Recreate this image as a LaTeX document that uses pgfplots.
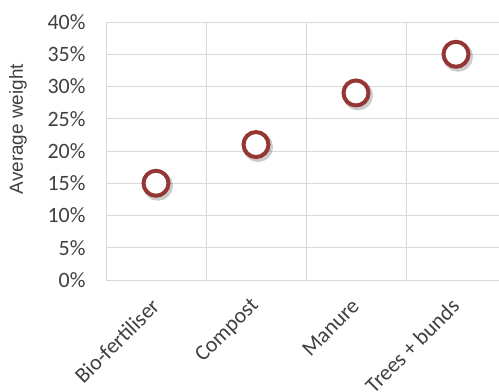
\documentclass[border=0pt]{standalone}
\usepackage{pgfplots}
\pgfplotsset{compat=1.18}
\usepackage{fontspec}
\setmainfont{Carlito}
\newfontfamily\labelfont{Liberation Sans}
\definecolor{gridgray}{HTML}{D9D9D9}
\definecolor{ringred}{HTML}{943634}
\definecolor{txt}{HTML}{404040}

\begin{document}
\begin{tikzpicture}
\begin{axis}[
    at={(106bp,112bp)}, anchor=south west,
    scale only axis, width=400bp, height=258bp,
    xmin=-0.5, xmax=3.5, ymin=0, ymax=40,
    xtick={0,1,2,3},
    xticklabels={Bio-fertiliser, Compost, Manure, Trees + bunds},
    minor xtick={-0.5,0.5,1.5,2.5,3.5},
    xminorgrids, ymajorgrids,
    ytick={0,5,...,40},
    yticklabel={\pgfmathprintnumber{\tick}\%},
    major tick length=0, minor tick length=0,
    axis line style={gridgray, line width=0.8bp},
    grid style={gridgray, line width=0.8bp},
    minor grid style={gridgray, line width=0.8bp},
    tick label style={font=\fontsize{22}{26}\selectfont, text=txt},
    xticklabel style={yshift=-20bp, xshift=2bp, rotate=45, anchor=east},
    yticklabel style={xshift=-17bp},
    /pgf/number format/assume math mode=true,
    ylabel={Average weight},
    ylabel style={font=\labelfont\fontsize{19}{22}\selectfont, text=txt,
        at={(axis description cs:-0.22,0.585)}, anchor=center},
]
% shadow
\addplot[only marks, mark=o, mark size=12.5bp,
    mark options={draw=black, opacity=0.2, line width=5bp, xshift=2bp, yshift=-2.5bp}]
coordinates {
    (0, 15)
    (1, 21)
    (2, 29)
    (3, 35)
};
\addplot[only marks, mark=*, mark size=12.5bp,
    mark options={draw=ringred, fill=white, line width=4bp}]
coordinates {
    (0, 15)
    (1, 21)
    (2, 29)
    (3, 35)
};
\end{axis}
\pgfresetboundingbox
\useasboundingbox (0,0) rectangle (499bp,392bp);
\end{tikzpicture}
\end{document}
